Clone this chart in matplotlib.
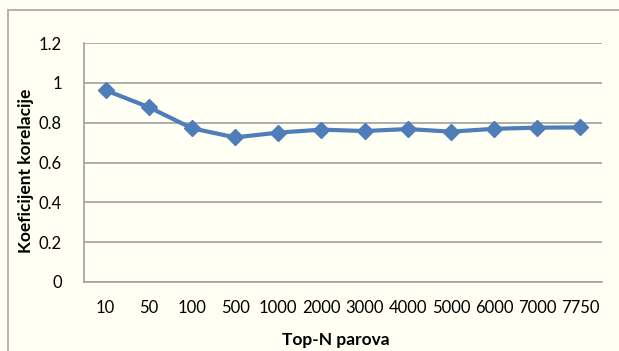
import matplotlib
matplotlib.use("Agg")
import matplotlib.pyplot as plt
from matplotlib.patches import Rectangle

categories = ["10", "50", "100", "500", "1000", "2000", "3000", "4000", "5000", "6000", "7000", "7750"]
values = [0.963, 0.878, 0.772, 0.726, 0.750, 0.765, 0.758, 0.768, 0.755, 0.769, 0.775, 0.776]
y_ticks = [0, 0.2, 0.4, 0.6, 0.8, 1.0, 1.2]
y_tick_labels = ["0", "0.2", "0.4", "0.6", "0.8", "1", "1.2"]

plt.rcParams['font.family'] = ['Lato', 'DejaVu Sans']
bg = "#FFFFF3"
fig = plt.figure(figsize=(6.19, 3.51), dpi=100, facecolor=bg)
fig.patches.append(Rectangle((8/619, -0.1), 1.2, 1 - 10/351 + 0.1, transform=fig.transFigure,
                             fill=False, edgecolor="#A6A6A6", linewidth=1.2))
ax = fig.add_axes([84/619, 1 - 282/351, (602-84)/619, (282-43)/351])
ax.set_facecolor(bg)
x = list(range(len(categories)))
ax.plot(x, values, color="#4F7DBA", linewidth=3, marker="D", markersize=8,
        markerfacecolor="#4F7DBA", markeredgecolor="#4F7DBA", zorder=3)
ax.set_xlim(-0.5, len(categories) - 0.5)
ax.set_ylim(0, 1.2)
ax.set_yticks(y_ticks)
ax.set_yticklabels(y_tick_labels)
ax.set_xticks(x)
ax.set_xticklabels(categories)
ax.yaxis.grid(True, color="#A0A0A0", linewidth=1.2)
ax.set_axisbelow(True)
for s in ["top", "right"]:
    ax.spines[s].set_visible(False)
for s in ["left", "bottom"]:
    ax.spines[s].set_color("#A0A0A0")
    ax.spines[s].set_linewidth(1.2)
ax.tick_params(axis="both", length=0, labelsize=12, colors="black")
ax.tick_params(axis="y", pad=16)
ax.tick_params(axis="x", pad=13)
ax.set_xlabel("Top-N parova", fontsize=12.5, fontweight="bold", va="center")
ax.set_ylabel("Koeficijent korelacije", fontsize=12.5, fontweight="bold", va="center")
ax.xaxis.set_label_coords(0.486, -0.242)
ax.yaxis.set_label_coords(-0.112, 0.465)
fig.savefig("out.png", dpi=100, facecolor=bg)
